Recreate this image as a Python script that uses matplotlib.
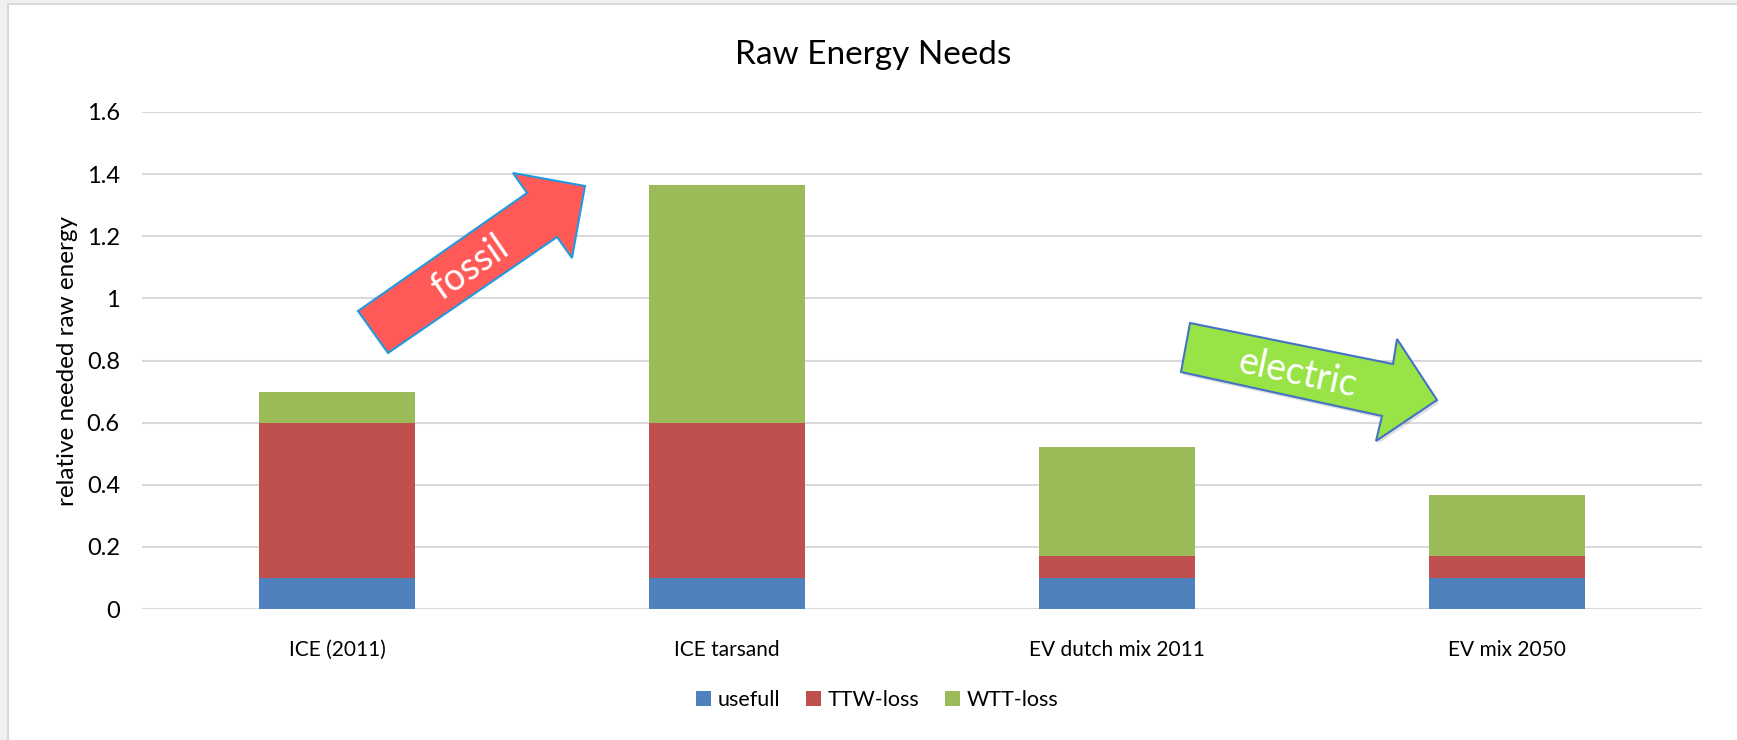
import matplotlib
matplotlib.use("Agg")
import matplotlib.pyplot as plt
from matplotlib.patches import Polygon, Rectangle

plt.rcParams['font.family'] = ['Lato', 'DejaVu Sans']

categories = ["ICE (2011)", "ICE tarsand", "EV dutch mix 2011", "EV mix 2050"]
usefull = [0.1, 0.1, 0.1, 0.1]
ttw_loss = [0.5, 0.5, 0.072, 0.072]
wtt_loss = [0.1, 0.764, 0.35, 0.195]
series_names = ["usefull", "TTW-loss", "WTT-loss"]
colors = ["#4F81BD", "#C0504D", "#9BBB59"]

W, H = 1737, 740
fig = plt.figure(figsize=(W / 100, H / 100), dpi=100)
fig.patch.set_facecolor("#F0F0F0")
# white chart panel with thin gray border
fig.patches.append(Rectangle((8 / W, -0.01), 1.0, 1 - 4 / H + 0.01, transform=fig.transFigure,
                             facecolor="white", edgecolor="#D9D9D9", linewidth=1.5, zorder=-10))

ax = fig.add_axes([142 / W, 1 - 609 / H, (1702 - 142) / W, (609 - 112) / H])
ax.set_facecolor("none")

x = list(range(len(categories)))
bottom = [0.0] * len(categories)
for vals, name, c in zip([usefull, ttw_loss, wtt_loss], series_names, colors):
    ax.bar(x, vals, width=0.4, bottom=bottom, color=c, label=name, zorder=3)
    bottom = [b + v for b, v in zip(bottom, vals)]

ax.set_xlim(-0.5, 3.5)
ax.set_ylim(0, 1.6)
ax.set_yticks([0, 0.2, 0.4, 0.6, 0.8, 1.0, 1.2, 1.4, 1.6])
ax.set_yticklabels(["0", "0.2", "0.4", "0.6", "0.8", "1", "1.2", "1.4", "1.6"])
ax.set_xticks(x)
ax.set_xticklabels(categories)
ax.tick_params(axis="both", length=0, colors="#000000")
ax.tick_params(axis="y", pad=16, labelsize=17)
ax.tick_params(axis="x", pad=22, labelsize=15)
ax.grid(axis="y", color="#D9D9D9", linewidth=1.5, zorder=0)
for s in ax.spines.values():
    s.set_visible(False)
ax.set_ylabel("relative needed raw energy", fontsize=17.5, labelpad=6)

fig.text(873 / W, 1 - 55 / H, "Raw Energy Needs", ha="center", va="center", fontsize=24)

ax.legend(loc="center", bbox_to_anchor=(877 / W, 1 - 700 / H), bbox_transform=fig.transFigure,
          ncol=3, frameon=False, fontsize=15.5, handlelength=0.7, handleheight=0.7,
          handletextpad=0.3, columnspacing=1.2)

# annotation arrows (pixel coordinates of the screenshot, top-left origin)
def px(pts):
    return [(a / 100, (H - b) / 100) for a, b in pts]

fossil = [(358, 311), (527, 193), (513, 173), (585, 186), (572, 258), (557, 237), (388, 353)]
electric = [(1190, 323), (1393, 364), (1397, 339), (1437, 400), (1376, 441), (1382, 416), (1181, 372)]

shadow = [(a + 2, b + 3) for a, b in electric]
fig.patches.append(Polygon(px(shadow), closed=True, transform=fig.dpi_scale_trans,
                           facecolor="#000000", alpha=0.12, edgecolor="none", zorder=5))
fig.patches.append(Polygon(px(fossil), closed=True, transform=fig.dpi_scale_trans,
                           facecolor="#FF5A57", edgecolor="#1E9BE0", linewidth=1.5, zorder=6))
fig.patches.append(Polygon(px(electric), closed=True, transform=fig.dpi_scale_trans,
                           facecolor="#98E346", edgecolor="#4472C4", linewidth=1.5, zorder=6))

fig.text(470 / W, 1 - 268 / H, "fossil", color="white", fontsize=27, rotation=34.5,
         ha="center", va="center", rotation_mode="anchor", zorder=7)
fig.text(1298 / W, 1 - 374 / H, "electric", color="white", fontsize=27, rotation=-12,
         ha="center", va="center", rotation_mode="anchor", zorder=7)

fig.savefig("out.png", dpi=100, facecolor=fig.get_facecolor())
